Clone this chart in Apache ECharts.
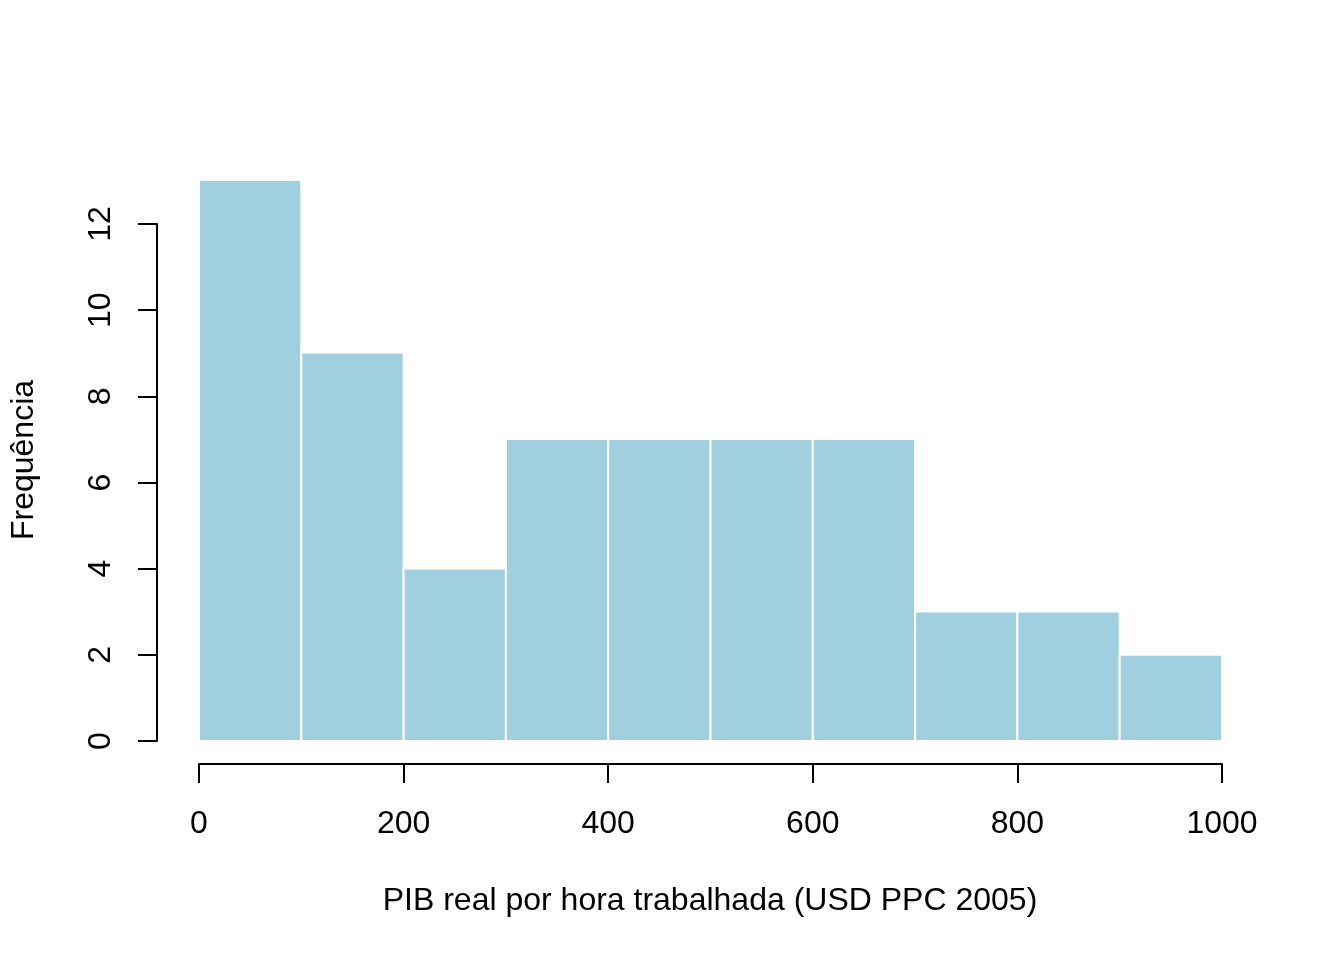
<!DOCTYPE html>
<html>
<head>
<meta charset="utf-8">
<script src="https://cdn.jsdelivr.net/npm/echarts@6/dist/echarts.min.js"></script>
<style>html,body{margin:0;padding:0;background:#fff}#c{width:1344px;height:960px}</style>
</head>
<body>
<div id="c"></div>
<script>
const binStarts = [0, 100, 200, 300, 400, 500, 600, 700, 800, 900];
const binEnds = [100, 200, 300, 400, 500, 600, 700, 800, 900, 1000];
const counts = [13, 9, 4, 7, 7, 7, 7, 3, 3, 2];
const xTicks = [0, 200, 400, 600, 800, 1000];
const yTicks = [0, 2, 4, 6, 8, 10, 12];
const xTitle = 'PIB real por hora trabalhada (USD PPC 2005)';
const yTitle = 'Frequência';

const data = binStarts.map((s, i) => [s, binEnds[i], counts[i]]);
const font = 'Liberation Sans, Arial, sans-serif';
const chart = echarts.init(document.getElementById('c'), null, {renderer: 'canvas'});
chart.setOption({
  animation: false,
  backgroundColor: '#fff',
  grid: [
    {left: 199, width: 1023, top: 180, bottom: 219},
    {left: 157, width: 1023, top: 224, bottom: 219}
  ],
  xAxis: [
    {gridIndex: 0, type: 'value', min: 0, max: 1000, interval: 200, offset: 23,
     axisLine: {show: true, onZero: false, lineStyle: {color: '#000', width: 2}},
     axisTick: {show: true, length: 19, lineStyle: {color: '#000', width: 2}},
     axisLabel: {color: '#000', fontSize: 32, fontFamily: font, margin: 44,
       formatter: v => xTicks.includes(v) ? String(v) : ''},
     splitLine: {show: false}},
    {gridIndex: 1, type: 'value', min: 0, max: 1000, show: false}
  ],
  yAxis: [
    {gridIndex: 0, type: 'value', min: 0, max: 13, show: false},
    {gridIndex: 1, type: 'value', min: 0, max: 12, interval: 2,
     axisLine: {show: true, onZero: false, lineStyle: {color: '#000', width: 2}},
     axisTick: {show: true, length: 19, lineStyle: {color: '#000', width: 2}},
     axisLabel: {color: '#000', fontSize: 32, fontFamily: font, rotate: 90, margin: 40,
       formatter: v => yTicks.includes(v) ? String(v) : ''},
     splitLine: {show: false}}
  ],
  series: [{
    type: 'custom', xAxisIndex: 0, yAxisIndex: 0, data: data,
    renderItem: function (params, api) {
      const p0 = api.coord([api.value(0), 0]);
      const p1 = api.coord([api.value(1), api.value(2)]);
      return {type: 'rect', shape: {x: p0[0], y: p1[1], width: p1[0] - p0[0], height: p0[1] - p1[1]},
        style: {fill: '#A0CFE0', stroke: '#fff', lineWidth: 2}};
    }
  }],
  graphic: [
    {type: 'text', x: 710, y: 901, style: {text: xTitle, font: '32px ' + font, fill: '#000', textAlign: 'center', textVerticalAlign: 'middle'}},
    {type: 'text', rotation: Math.PI / 2, x: 24, y: 460, style: {text: yTitle, font: '32px ' + font, fill: '#000', textAlign: 'center', textVerticalAlign: 'middle'}}
  ]
});
</script>
</body>
</html>
